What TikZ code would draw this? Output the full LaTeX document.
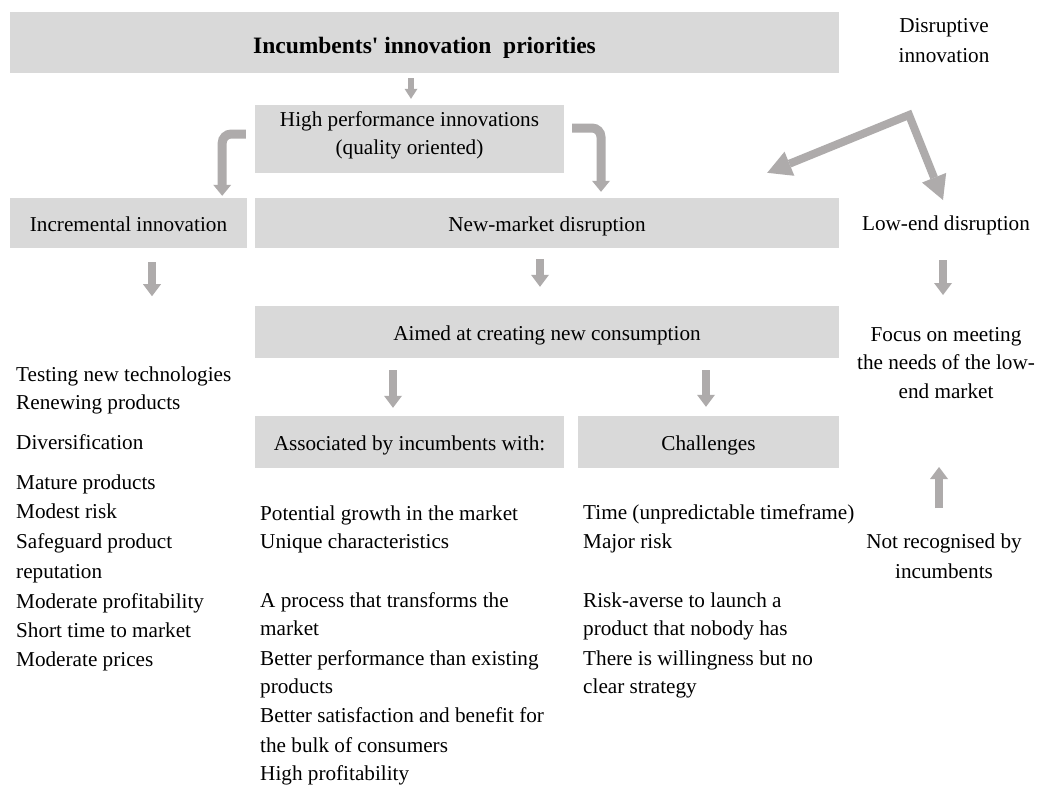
\documentclass[tikz,border=0pt]{standalone}
\usepackage{fontspec}
\newfontfamily\plainrm{Liberation Serif}
\usetikzlibrary{arrows.meta,calc}
\definecolor{boxgray}{HTML}{D9D9D9}
\definecolor{arrowgray}{HTML}{AEABAB}
\begin{document}
\begin{tikzpicture}[x=1pt,y=-1pt,
  font=\plainrm\fontsize{21.2}{28}\selectfont,
  box/.style={fill=boxgray, inner sep=0pt, text height=17pt, text depth=0pt, align=center},
  txt/.style={inner sep=0pt},
  arr/.style={draw=arrowgray, line width=8.5pt, -{Triangle[length=12pt,width=18pt,line width=0pt]}},
  smallarr/.style={draw=arrowgray, line width=6.5pt, -{Triangle[length=10pt,width=13pt,line width=0pt]}},
  bentarr/.style={draw=arrowgray, line width=9pt, rounded corners=9pt, -{Triangle[length=11pt,width=18pt,line width=0pt]}},
  splitarr/.style={draw=arrowgray, line width=8pt, line join=miter,
    {Triangle[length=24pt,width=26pt,line width=0pt]}-{Triangle[length=24pt,width=26pt,line width=0pt]}}
]
\fill[white] (0,0) rectangle (1042,787);
\useasboundingbox (0,0) rectangle (1042,787);

% grey boxes
\node[box, minimum width=829pt, minimum height=61pt, text height=21pt,
  font=\plainrm\bfseries\fontsize{23.5}{28}\selectfont] (top) at (424.5,42.5) {Incumbents' innovation\ \ priorities};
\node[box, minimum width=309pt, minimum height=68pt] (hp) at (409.5,139) {};
\node[txt, anchor=base] (hp1) at (409.5,126) {High performance innovations};
\node[txt, anchor=base] (hp2) at (409.5,154) {(quality oriented)};
\node[box, minimum width=237pt, minimum height=50pt] (inc) at (128.5,223) {Incremental innovation};
\node[box, minimum width=584pt, minimum height=50pt] (nm) at (547,223) {New-market disruption};
\node[box, minimum width=584pt, minimum height=52pt] (aim) at (547,332) {Aimed at creating new consumption};
\node[box, minimum width=309pt, minimum height=52pt] (assoc) at (409.5,442) {Associated by incumbents with:};
\node[box, minimum width=261pt, minimum height=52pt] (chal) at (708.5,442) {Challenges};

% right-hand column
\node[txt, anchor=base] (dis1) at (944,32) {Disruptive};
\node[txt, anchor=base] (dis2) at (944,62) {innovation};
\node[txt, anchor=base] (low) at (946,230) {Low-end disruption};
\node[txt, anchor=base] (f1) at (946,341) {Focus on meeting};
\node[txt, anchor=base] (f2) at (946,369) {the needs of the low-};
\node[txt, anchor=base] (f3) at (946,398) {end market};
\node[txt, anchor=base] (nr1) at (944,548) {Not recognised by};
\node[txt, anchor=base] (nr2) at (944,578) {incumbents};

% lists
\foreach \y/\t [count=\i] in {381/Testing new technologies, 409/Renewing products,
  449/Diversification, 489/Mature products, 518/Modest risk, 548/Safeguard product,
  578/reputation, 608/Moderate profitability, 637/Short time to market, 666/Moderate prices}
  \node[txt, anchor=base west] (L\i) at (16,\y) {\t};
\foreach \y/\t [count=\i] in {520/Potential growth in the market, 548/Unique characteristics,
  607/A process that transforms the, 635/market, 665/Better performance than existing,
  693/products, 722/Better satisfaction and benefit for, 752/the bulk of consumers,
  780/High profitability}
  \node[txt, anchor=base west] (M\i) at (260,\y) {\t};
\foreach \y/\t [count=\i] in {519/Time (unpredictable timeframe), 548/Major risk,
  607/Risk-averse to launch a, 635/product that nobody has,
  665/There is willingness but no, 693/clear strategy}
  \node[txt, anchor=base west] (R\i) at (583,\y) {\t};

% connectors
\draw[smallarr] ($(top.south -| hp.north)+(1.5,5)$) -- ($(hp.north)+(1.5,-6)$);
\draw[bentarr] ($(hp.west)+(-9,-5)$) -| ($(inc.north east)+(-25,-2)$);
\draw[bentarr] ($(hp.east)+(8,-11)$) -| ($(nm.north)+(54,-6)$);
\coordinate (apex) at (909,115);
\draw[splitarr] ($(nm.north east)+(-72,-25)$) -- (apex) -- ($(low.base)+(-3,-30)$);
\draw[arr] ($(inc.south)+(23.5,14)$) -- ($(inc.south)+(23.5,48)$);
\draw[arr] ($(nm.south)+(-7,11)$) -- ($(aim.north)+(-7,-19)$);
\draw[arr] ($(low.base)+(-3,30)$) -- ($(f1.base)+(-3,-46)$);
\draw[arr] ($(aim.south -| assoc.north)+(-16.5,12)$) -- ($(assoc.north)+(-16.5,-8)$);
\draw[arr] ($(aim.south -| chal.north)+(-2.5,12)$) -- ($(chal.north)+(-2.5,-9)$);
\draw[arr] ($(nr1.base)+(-5,-40)$) -- ($(f3.base)+(-7,69)$);
\end{tikzpicture}
\end{document}
